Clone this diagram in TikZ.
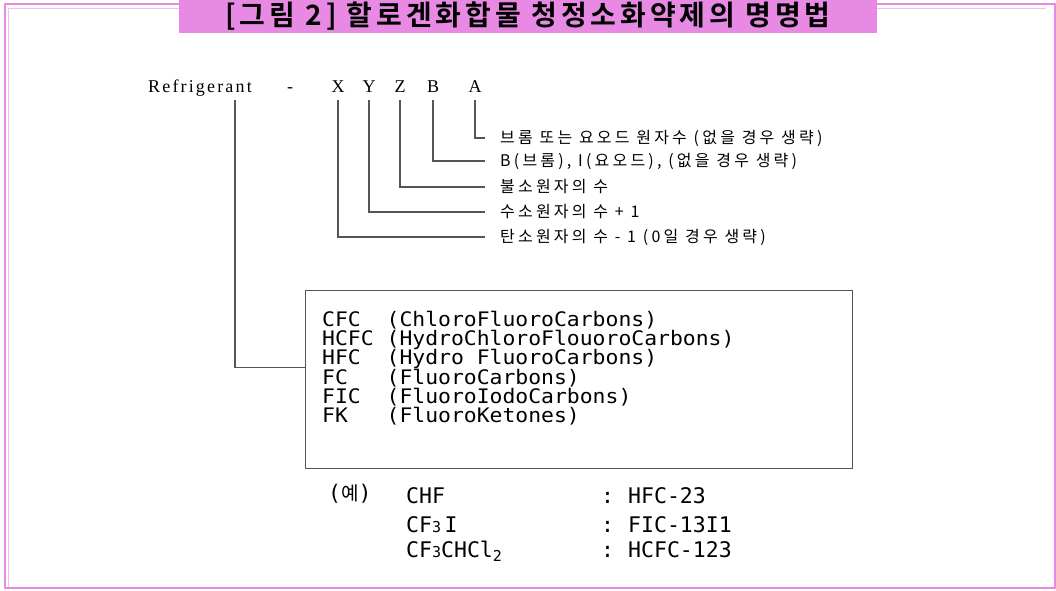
\documentclass[tikz,border=0pt]{standalone}
\usepackage{fontspec}
\setmainfont{Liberation Serif}
\newfontfamily\krfont{Noto Sans CJK KR}
\newfontfamily\krwide[LetterSpace=20]{Noto Sans CJK KR}
\newfontfamily\krtitle[LetterSpace=14]{Noto Sans CJK KR Bold}
\newfontfamily\monofont{DejaVu Sans Mono}
\newfontfamily\boxmono[FakeStretch=1.07]{DejaVu Sans Mono}
\newfontfamily\widefont[LetterSpace=12]{Liberation Serif}
\usepackage{xcolor}
\definecolor{framepink}{RGB}{232,138,228}
\definecolor{linegray}{RGB}{85,85,85}
\newcommand{\smallnum}[1]{{\fontsize{15}{15}\selectfont #1}}
\newcommand{\lownum}[1]{\raisebox{-4pt}{\fontsize{15}{15}\selectfont #1}}
\newcommand{\tightlines}{\setlength{\lineskiplimit}{-20pt}}

\begin{document}
\begin{tikzpicture}[x=1pt,y=-1pt,
    code/.style={anchor=base, inner sep=0pt, font=\fontsize{18}{18}\selectfont},
    desc/.style={anchor=west, inner xsep=15pt, inner ysep=0pt, font=\krwide\fontsize{16}{16}\selectfont},
    conn/.style={linegray, line width=1.1pt},
    mono/.style={anchor=base west, inner sep=0pt, font=\monofont\fontsize{21.5}{21.5}\selectfont}]
    \useasboundingbox (0,0) rectangle (1056,590);
    \clip (0,0) rectangle (1056,590);

    % frame and title
    \draw[framepink, line width=2pt] (5,4) rectangle (1054.5,588);
    \draw[framepink!55, line width=1pt] (8.5,587) -- (8.5,8) -- (1046,8);
    \node[fill=framepink, minimum width=698pt, minimum height=34pt, inner sep=0pt,
          anchor=north, font=\krtitle\fontsize{28}{28}\selectfont] (title) at (528,-1)
          {[그림 2] 할로겐화합물 청정소화약제의 명명법};

    % Refrigerant - X Y Z B A
    \node[code] (ref) at (200,92) {\widefont Refrigerant};
    \node[code] (dash) at (290,92) {-};
    \node[code] (lx) at (338,92) {X};
    \node[code] (ly) at (369,92) {Y};
    \node[code] (lz) at (400,92) {Z};
    \node[code] (lb) at (433,92) {B};
    \node[code] (la) at (475,92) {A};

    % meaning of each letter
    \node[desc] (da) at (485,138) {브롬 또는 요오드 원자수 (없을 경우 생략)};
    \node[desc] (db) at (485,161) {B(브롬), I(요오드), (없을 경우 생략)};
    \node[desc] (dz) at (485,187) {불소원자의 수};
    \node[desc] (dy) at (485,212) {수소원자의 수 + 1};
    \node[desc] (dx) at (485,237) {탄소원자의 수 - 1 (0일 경우 생략)};

    \draw[conn] ([yshift=-8pt]la.base) |- (da.west);
    \draw[conn] ([yshift=-8pt]lb.base) |- (db.west);
    \draw[conn] ([yshift=-8pt]lz.base) |- (dz.west);
    \draw[conn] ([yshift=-8pt]ly.base) |- (dy.west);
    \draw[conn] ([yshift=-8pt]lx.base) |- (dx.west);

    % classes
    \node[draw=linegray, line width=1.3pt, anchor=north west, minimum width=547pt,
          minimum height=178pt, inner sep=0pt] (cls) at (305,290) {};
    \node[anchor=north west, inner sep=0pt, align=left,
          font=\boxmono\fontsize{20}{19.2}\selectfont\tightlines] (clstext) at (322,311)
          {CFC\ \ (ChloroFluoroCarbons)\\
           HCFC (HydroChloroFlouoroCarbons)\\
           HFC\ \ (Hydro FluoroCarbons)\\
           FC\ \ \ (FluoroCarbons)\\
           FIC\ \ (FluoroIodoCarbons)\\
           FK\ \ \ (FluoroKetones)};
    \coordinate (rtop) at (235,100);
    \draw[conn] (rtop) |- ([yshift=12pt]cls.west);

    % examples
    \node[mono] (ex) at (328,500) {({\krfont\fontsize{19}{19}\selectfont 예})};
    \node[mono] (f1) at (406,503) {CHF};
    \node[mono] (f2) at (406,532) {CF\smallnum{3}\,I};
    \node[mono] (f3) at (406,557) {CF\smallnum{3}CHCl\lownum{2}};
    \node[mono] (c1) at (601,503) {:};
    \node[mono] (c2) at (601,532) {:};
    \node[mono] (c3) at (601,557) {:};
    \node[mono] (n1) at (628,503) {HFC-23};
    \node[mono] (n2) at (628,532) {FIC-13I1};
    \node[mono] (n3) at (628,557) {HCFC-123};
\end{tikzpicture}
\end{document}
